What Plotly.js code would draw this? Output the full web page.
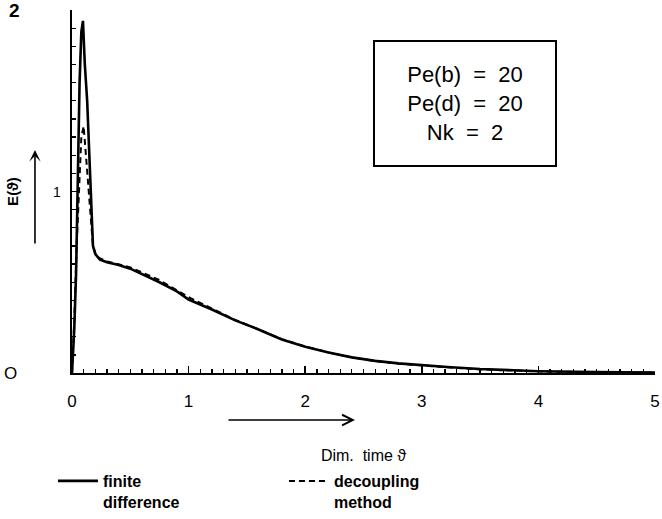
<!DOCTYPE html>
<html>
<head>
<meta charset="utf-8">
<script src="https://cdn.plot.ly/plotly-3.0.1.min.js"></script>
<style>
  html, body { margin: 0; padding: 0; background: #fff; }
  #chart { width: 662px; height: 519px; }
</style>
</head>
<body>
<div id="chart"></div>
<script>
// Residence time distribution E(theta) versus dimensionless time
const thetaFD = [0, 0.02, 0.035, 0.05, 0.065, 0.08, 0.094, 0.11, 0.13, 0.155, 0.18, 0.2, 0.24, 0.3, 0.4, 0.5, 0.6, 0.75, 0.9, 1.0, 1.2, 1.4, 1.6, 1.8, 2.0, 2.2, 2.4, 2.6, 2.8, 3.0, 3.25, 3.5, 3.75, 4.0, 4.5, 5.0];
const eFD     = [0, 0.25, 0.55, 1.2, 1.6, 1.88, 1.94, 1.7, 1.5, 1.1, 0.7, 0.655, 0.625, 0.61, 0.595, 0.575, 0.545, 0.5, 0.45, 0.405, 0.35, 0.29, 0.24, 0.185, 0.145, 0.113, 0.086, 0.067, 0.053, 0.042, 0.032, 0.022, 0.015, 0.01, 0.005, 0.002];

const thetaDM = [0, 0.02, 0.04, 0.06, 0.08, 0.1, 0.12, 0.15, 0.18, 0.21, 0.3, 0.5, 0.75, 1.0, 1.2, 1.4, 1.6, 1.8, 2.0, 2.2, 2.4, 2.6, 2.8, 3.0, 3.25, 3.5, 3.75, 4.0, 4.5, 5.0];
const eDM     = [0, 0.3, 0.7, 1.05, 1.3, 1.36, 1.2, 0.95, 0.7, 0.64, 0.615, 0.582, 0.512, 0.418, 0.355, 0.292, 0.24, 0.186, 0.146, 0.113, 0.086, 0.066, 0.051, 0.04, 0.03, 0.02, 0.013, 0.009, 0.004, 0.002];

const xTickVals = [0, 1, 2, 3, 4, 5];
const yTickVals = [2, 1, 0];
const yTickText = ['2', '1', 'O'];
const paramLines = ['Pe(b)  =  20', 'Pe(d)  =  20', 'Nk  =  2'];

const FONT = 'Liberation Sans, Arial, sans-serif';

const traces = [
  {
    x: thetaFD, y: eFD, mode: 'lines', name: '<b>finite</b><br><b>difference</b>',
    line: { color: '#000', width: 2.6 }
  },
  {
    x: thetaDM, y: eDM, mode: 'lines', name: '<b>decoupling</b><br><b>method</b>',
    line: { color: '#000', width: 2, dash: '6px,4px' }
  }
];

// y tick labels sit at individual offsets from the axis
const yOffsets = [-58, -15, -62];
const ySizes = [19, 14, 17];
const yLabelAnn = yTickVals.map((v, i) => ({
  xref: 'paper', yref: 'y', x: 0, y: v,
  xanchor: 'center', yanchor: 'middle', xshift: yOffsets[i],
  text: (i === 0 ? '<b>' + yTickText[i] + '</b>' : yTickText[i]),
  showarrow: false, font: { family: FONT, size: ySizes[i], color: '#000' }
}));

const layout = {
  width: 662, height: 519,
  margin: { l: 72, r: 7, t: 10, b: 146 },
  paper_bgcolor: '#fff', plot_bgcolor: '#fff',
  showlegend: true,
  legend: {
    orientation: 'h', xref: 'container', yref: 'container',
    x: 0.08, xanchor: 'left', y: 0.106, yanchor: 'top',
    entrywidth: 176, entrywidthmode: 'pixels', valign: 'top',
    font: { family: FONT, size: 16, color: '#000' },
    tracegroupgap: 0, itemwidth: 40
  },
  xaxis: {
    range: [0, 5], showgrid: false, zeroline: false,
    showline: true, linecolor: '#000', linewidth: 2,
    ticks: 'inside', ticklen: 7, tickwidth: 1.5, tickcolor: '#000',
    tickvals: xTickVals, ticktext: xTickVals.map(String),
    ticklabelstandoff: 12,
    minor: { dtick: 0.1, ticks: 'inside', ticklen: 4, tickwidth: 1.3, tickcolor: '#000', showgrid: false },
    tickfont: { family: FONT, size: 17, color: '#000' },
    title: { text: 'Dim.  time ϑ', font: { family: FONT, size: 16, color: '#000' }, standoff: 50 },
    automargin: false, fixedrange: true
  },
  yaxis: {
    range: [0, 2], showgrid: false, zeroline: false,
    showline: true, linecolor: '#000', linewidth: 2,
    ticks: 'inside', ticklen: 5, tickwidth: 1.5, tickcolor: '#000',
    tickvals: yTickVals, showticklabels: false,
    minor: { dtick: 0.1, ticks: 'inside', ticklen: 4, tickwidth: 1.3, tickcolor: '#000', showgrid: false },
    title: { text: '<b>E(ϑ)</b>', font: { family: FONT, size: 15, color: '#000' }, standoff: 48 },
    automargin: false, fixedrange: true
  },
  annotations: yLabelAnn.concat([
    {
      xref: 'paper', yref: 'paper', x: 0.6743, y: 0.743,
      xanchor: 'center', yanchor: 'middle',
      text: paramLines.join('<br>'), align: 'center', showarrow: false,
      width: 178, height: 121, valign: 'middle',
      bordercolor: '#000', borderwidth: 2, bgcolor: '#fff', borderpad: 1,
      font: { family: FONT, size: 22, color: '#000' }
    },
    {
      // arrow under the x axis pointing in the direction of increasing time
      xref: 'paper', yref: 'paper', x: 0.4854, y: -0.1295,
      ax: -128, ay: 0, text: '', showarrow: true,
      arrowhead: 5, arrowsize: 1.3, arrowwidth: 1.6, arrowcolor: '#000'
    },
    {
      // arrow beside the y axis title
      xref: 'paper', yref: 'paper', x: -0.0635, y: 0.614,
      ax: 0, ay: 95, text: '', showarrow: true,
      arrowhead: 3, arrowsize: 1.2, arrowwidth: 1.6, arrowcolor: '#000'
    }
  ])
};

Plotly.newPlot('chart', traces, layout, { displayModeBar: false, staticPlot: true });
</script>
</body>
</html>
